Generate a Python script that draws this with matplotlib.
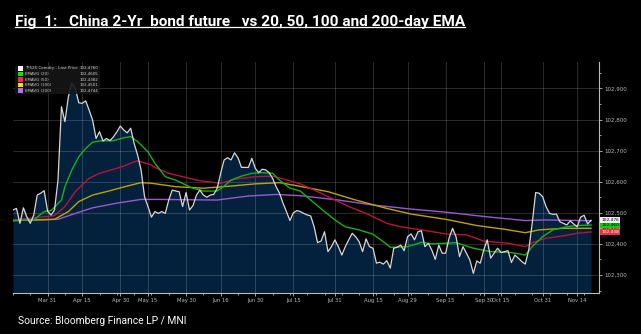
import matplotlib
matplotlib.use('Agg')
import matplotlib.pyplot as plt
from matplotlib.lines import Line2D
from matplotlib.patches import Rectangle
from matplotlib.ticker import MultipleLocator, FuncFormatter
import pandas as pd

# CFFEX trading calendar: weekdays minus exchange holidays
start, end = '2025-03-17', '2025-11-20'
holidays = ['2025-04-04', '2025-05-01', '2025-05-02', '2025-05-05', '2025-06-02',
            '2025-10-01', '2025-10-02', '2025-10-03', '2025-10-06', '2025-10-07', '2025-10-08']

# daily last price, one value per trading day
price = [102.509, 102.514, 102.466, 102.516, 102.487, 102.466, 102.493, 102.557, 102.563, 102.571,
         102.505, 102.493, 102.509,
         102.605, 102.841, 102.793, 102.873, 102.918, 102.900, 102.854, 102.852, 102.860, 102.830,
         102.798, 102.739, 102.761, 102.731, 102.739, 102.732, 102.744, 102.760, 102.779, 102.766,
         102.757, 102.772, 102.723, 102.686, 102.638, 102.552, 102.520, 102.486, 102.504, 102.498,
         102.504, 102.498, 102.541, 102.573, 102.570, 102.568, 102.520, 102.565, 102.509, 102.523,
         102.557, 102.573, 102.557, 102.550, 102.557, 102.559, 102.579, 102.627, 102.670, 102.677,
         102.670, 102.693, 102.677, 102.646, 102.646, 102.646, 102.675, 102.643, 102.629, 102.640,
         102.638, 102.629, 102.611, 102.584, 102.563, 102.531, 102.504, 102.475, 102.500, 102.507,
         102.504, 102.498, 102.493, 102.490, 102.455, 102.404, 102.409, 102.439, 102.375, 102.391,
         102.413, 102.391, 102.364, 102.391, 102.413, 102.434, 102.423, 102.407, 102.375, 102.416,
         102.391, 102.386, 102.338, 102.341, 102.335, 102.346, 102.322, 102.386, 102.389, 102.396,
         102.378, 102.423, 102.432, 102.413, 102.439, 102.442, 102.391, 102.402, 102.380, 102.350,
         102.396, 102.370, 102.370, 102.419, 102.450, 102.423, 102.359, 102.391, 102.370, 102.348,
         102.305, 102.345, 102.338, 102.380, 102.413, 102.354, 102.370, 102.386, 102.372, 102.375,
         102.378, 102.340, 102.364, 102.354, 102.343, 102.335, 102.380, 102.466, 102.565, 102.563,
         102.552, 102.520, 102.498, 102.495, 102.496, 102.471, 102.466, 102.461, 102.474, 102.464,
         102.455, 102.486, 102.492, 102.464, 102.476]

ema20_dates = ['2025-03-17', '2025-03-25', '2025-03-28', '2025-04-01', '2025-04-07', '2025-04-08',
               '2025-04-10', '2025-04-14', '2025-04-16', '2025-04-18', '2025-04-22', '2025-04-28',
               '2025-05-06', '2025-05-08', '2025-05-12', '2025-05-15', '2025-05-19', '2025-05-22',
               '2025-05-27', '2025-05-30', '2025-06-04', '2025-06-09', '2025-06-13', '2025-06-17',
               '2025-06-19', '2025-06-24', '2025-06-27', '2025-07-02', '2025-07-07', '2025-07-09',
               '2025-07-14', '2025-07-17', '2025-07-22', '2025-07-28', '2025-07-31', '2025-08-05',
               '2025-08-11', '2025-08-15', '2025-08-20', '2025-08-22', '2025-08-29', '2025-09-04',
               '2025-09-09', '2025-09-15', '2025-09-18', '2025-09-25', '2025-10-10', '2025-10-20',
               '2025-10-24', '2025-10-28', '2025-10-31', '2025-11-05', '2025-11-11', '2025-11-14',
               '2025-11-20']
ema20 = [102.475, 102.477, 102.504, 102.507, 102.541, 102.584, 102.638, 102.680, 102.707, 102.727,
         102.731, 102.732, 102.741, 102.745, 102.729, 102.696, 102.659, 102.616, 102.605, 102.589,
         102.579, 102.570, 102.570, 102.586, 102.605, 102.618, 102.627, 102.629, 102.627, 102.605,
         102.579, 102.570, 102.541, 102.504, 102.477, 102.455, 102.445, 102.431, 102.407, 102.389,
         102.391, 102.405, 102.400, 102.402, 102.404, 102.386, 102.375, 102.372, 102.364, 102.391,
         102.423, 102.445, 102.455, 102.459, 102.4605]

ema50_dates = ['2025-03-17', '2025-03-28', '2025-04-02', '2025-04-08', '2025-04-11', '2025-04-17',
               '2025-04-22', '2025-04-28', '2025-05-06', '2025-05-09', '2025-05-12', '2025-05-16',
               '2025-05-19', '2025-05-23', '2025-05-29', '2025-06-06', '2025-06-16', '2025-06-20',
               '2025-06-30', '2025-07-07', '2025-07-14', '2025-07-17', '2025-07-24', '2025-07-31',
               '2025-08-06', '2025-08-13', '2025-08-21', '2025-08-27', '2025-09-04', '2025-09-15',
               '2025-09-23', '2025-09-30', '2025-10-17', '2025-10-24', '2025-10-28', '2025-11-03',
               '2025-11-10', '2025-11-14', '2025-11-20']
ema50 = [102.477, 102.487, 102.491, 102.520, 102.568, 102.611, 102.627, 102.640, 102.650, 102.664,
         102.667, 102.654, 102.646, 102.627, 102.616, 102.603, 102.595, 102.608, 102.616, 102.618,
         102.603, 102.593, 102.568, 102.541, 102.520, 102.498, 102.466, 102.455, 102.445, 102.432,
         102.429, 102.409, 102.402, 102.391, 102.404, 102.418, 102.426, 102.434, 102.4382]

ema100_dates = ['2025-03-17', '2025-04-02', '2025-04-09', '2025-04-14', '2025-04-18', '2025-04-25',
                '2025-05-07', '2025-05-13', '2025-05-16', '2025-05-27', '2025-06-09', '2025-06-19',
                '2025-06-30', '2025-07-09', '2025-07-15', '2025-07-29', '2025-08-08', '2025-08-21',
                '2025-09-01', '2025-09-15', '2025-09-26', '2025-10-16', '2025-10-24', '2025-10-30',
                '2025-11-10', '2025-11-20']
ema100 = [102.475, 102.479, 102.504, 102.536, 102.557, 102.571, 102.586, 102.597, 102.595, 102.584,
          102.579, 102.586, 102.593, 102.597, 102.589, 102.568, 102.541, 102.514, 102.496, 102.479,
          102.459, 102.447, 102.436, 102.445, 102.450, 102.4501]

ema200_dates = ['2025-03-17', '2025-04-03', '2025-04-11', '2025-04-18', '2025-04-29', '2025-05-13',
                '2025-05-20', '2025-06-13', '2025-06-26', '2025-07-08', '2025-07-17', '2025-08-01',
                '2025-08-15', '2025-09-01', '2025-09-15', '2025-10-09', '2025-10-24', '2025-11-03',
                '2025-11-20']
ema200 = [102.475, 102.479, 102.498, 102.516, 102.531, 102.543, 102.543, 102.541, 102.554, 102.559,
          102.555, 102.541, 102.525, 102.512, 102.502, 102.487, 102.475, 102.477, 102.4744]

tick_dates = ['2025-03-31', '2025-04-15', '2025-04-30', '2025-05-15', '2025-05-30', '2025-06-16',
              '2025-06-30', '2025-07-15', '2025-07-31', '2025-08-15', '2025-08-29', '2025-09-15',
              '2025-09-30', '2025-10-15', '2025-10-31', '2025-11-14']

legend_labels = ['TF525 Comdty - Last Price', 'EMAVG (20)', 'EMAVG (50)', 'EMAVG (100)', 'EMAVG (200)']
legend_values = ['102,4760', '102,4605', '102,4382', '102,4501', '102,4744']

title = 'Fig  1:   China 2-Yr  bond future   vs 20, 50, 100 and 200-day EMA'
source = 'Source: Bloomberg Finance LP / MNI'

days = pd.bdate_range(start, end)
days = days[~days.isin(pd.to_datetime(holidays))]
pos = {d: i for i, d in enumerate(days)}


def to_x(dates):
    return [pos[pd.Timestamp(d)] for d in dates]


def fit_width(txt, width_px, renderer):
    # shrink/grow a text so it spans the same width as in the reference
    w = txt.get_window_extent(renderer).width
    txt.set_fontsize(txt.get_fontsize() * width_px / w)


x = list(range(len(days)))
ymin, ymax = 102.242, 102.985

fig = plt.figure(figsize=(6.41, 3.34), dpi=100, facecolor='black')
ax = fig.add_axes([13 / 641, 41 / 334, 586 / 641, 231 / 334])
ax.set_facecolor('black')

ax.fill_between(x, price, ymin, color='#03203c', lw=0, zorder=0.5)
ax.plot(to_x(ema200_dates), ema200, color='#9a58d0', lw=1.0, zorder=2)
ax.plot(to_x(ema100_dates), ema100, color='#bca400', lw=1.0, zorder=2)
ax.plot(to_x(ema50_dates), ema50, color='#b8143a', lw=1.0, zorder=2)
ax.plot(to_x(ema20_dates), ema20, color='#18b018', lw=1.0, zorder=2)
ax.plot(x, price, color='#d8d8d8', lw=0.9, zorder=3)

ax.set_xlim(0, 169.3)
ax.set_ylim(ymin, ymax)
ax.set_axisbelow('line')
ax.grid(True, color='white', alpha=0.17, lw=0.7)

ax.yaxis.tick_right()
ax.yaxis.set_major_locator(MultipleLocator(0.1))
ax.yaxis.set_minor_locator(MultipleLocator(0.05))
ax.yaxis.set_major_formatter(FuncFormatter(lambda v, p: f'{v:.3f}'.replace('.', ',')))
ax.set_xticks(to_x(tick_dates))
ax.set_xticklabels([pd.Timestamp(d).strftime('%b %d').replace(' 0', ' ') for d in tick_dates])
ax.set_xticks(range(0, len(days) + 2, 5), minor=True)
ax.tick_params(axis='y', which='both', colors='#bbbbbb', labelsize=4, length=2, width=0.6, pad=1.5)
ax.tick_params(axis='y', which='minor', length=1.5)
ax.tick_params(axis='x', which='both', colors='#bbbbbb', labelsize=3.8, length=2, width=0.6, pad=1.5)
ax.tick_params(axis='x', which='minor', length=1.2, bottom=True)
for s in ['left', 'top']:
    ax.spines[s].set_visible(False)
for s in ['right', 'bottom']:
    ax.spines[s].set_color('#bbbbbb')
    ax.spines[s].set_linewidth(0.8)

# value tags on the right axis
tags = [(ema100[-1], '#c8b400', 'black'), (ema50[-1], '#e8304c', 'white'),
        (ema20[-1], '#16c816', 'black'), (price[-1], '#f0f0f0', 'black')]
for v, fc, tc in tags:
    ax.annotate(f'{v:.3f}'.replace('.', ','), xy=(1, v), xycoords=('axes fraction', 'data'),
                xytext=(1.5, 0), textcoords='offset points', va='center', ha='left',
                fontsize=3.2, color=tc, annotation_clip=False,
                bbox=dict(boxstyle='square,pad=0.2', fc=fc, ec='none'))

# Bloomberg-style legend box
leg_colors = ['white', '#16dc16', '#e8304c', '#f0e000', '#b070f0']
ax.add_patch(Rectangle((0.004, 0.862), 0.145, 0.122, transform=ax.transAxes,
                       fc='#161616', ec='none', alpha=0.9, zorder=4))
for i, (lab, val, c) in enumerate(zip(legend_labels, legend_values, leg_colors)):
    yy = 0.972 - i * 0.024
    ax.add_patch(Rectangle((0.009, yy - 0.009), 0.008, 0.019, transform=ax.transAxes,
                           fc=c, ec='none', zorder=5))
    ax.text(0.021, yy, lab, transform=ax.transAxes, fontsize=2.9, color='#cccccc',
            va='center', ha='left', zorder=5)
    ax.text(0.146, yy, val, transform=ax.transAxes, fontsize=2.9, color='#cccccc',
            va='center', ha='right', zorder=5)

t = fig.text(15 / 641, 1 - 22 / 334, title, color='white', fontsize=11, fontweight='bold',
             family='Roboto', va='center', ha='left')
s = fig.text(18 / 641, 1 - 321 / 334, source, color='white', fontsize=8.5,
             family='Roboto', va='center', ha='left')

fig.canvas.draw()
r = fig.canvas.get_renderer()
fit_width(t, 448, r)
fit_width(s, 167, r)
fig.canvas.draw()
bb = t.get_window_extent(r).transformed(fig.transFigure.inverted())
fig.add_artist(Line2D([bb.x0, bb.x1], [bb.y0 + 0.006, bb.y0 + 0.006], transform=fig.transFigure,
                      color='white', lw=0.9))

fig.savefig('out.png', dpi=100, facecolor='black')
